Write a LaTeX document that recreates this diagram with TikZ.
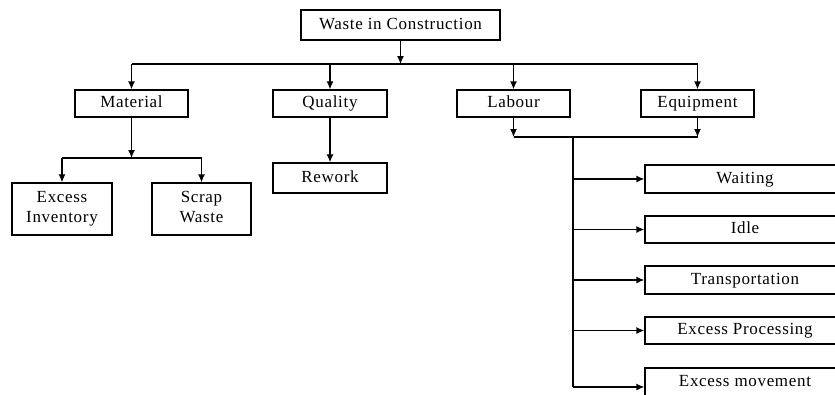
\documentclass[tikz,border=0pt]{standalone}
\usepackage{fontspec}
\setmainfont[LetterSpace=4]{Liberation Serif}
\usetikzlibrary{arrows.meta}
\begin{document}
\begin{tikzpicture}[x=1pt, y=-1pt, line width=1.3pt,
  box2/.style={draw, rectangle, inner sep=0pt, align=center, text depth=4pt, font=\fontsize{17}{20}\selectfont},
  box/.style={box2, text height=11pt, text depth=3pt},
  arr/.style={-{Latex[length=8pt,width=7pt]}}]
  \useasboundingbox (0,0) rectangle (835,394);
  \clip (0,0) rectangle (835,394);
  \node[box, minimum width=199pt, minimum height=30pt] (waste) at (400.5, 25) {Waste in Construction};
  \node[box, minimum width=113pt, minimum height=27pt] (material) at (131.5, 103.5) {Material};
  \node[box, minimum width=114pt, minimum height=27pt] (quality) at (330, 103.5) {Quality};
  \node[box, minimum width=113pt, minimum height=27pt] (labour) at (513.5, 103.5) {Labour};
  \node[box, minimum width=113pt, minimum height=27pt] (equip) at (697.5, 103.5) {Equipment};
  \node[box2, minimum width=100pt, minimum height=52pt] (inv) at (62, 209) {Excess\\Inventory};
  \node[box2, minimum width=99pt, minimum height=52pt] (scrap) at (201.5, 209) {Scrap\\Waste};
  \node[box, minimum width=114pt, minimum height=30pt] (rework) at (330, 178) {Rework};
  \node[box, minimum width=200pt, minimum height=28pt] (waiting) at (745, 179) {Waiting};
  \node[box, minimum width=200pt, minimum height=27pt] (idle) at (745, 229.5) {Idle};
  \node[box, minimum width=200pt, minimum height=28pt] (transp) at (745, 280) {Transportation};
  \node[box, minimum width=200pt, minimum height=27pt] (exproc) at (745, 330.5) {Excess Processing};
  \node[box, minimum width=200pt, minimum height=28pt] (exmove) at (745, 382) {Excess movement};
  \coordinate (hub) at (400.5, 64);
  \coordinate (mhub) at (131.5, 158);
  \coordinate (lhub) at (573, 137);
  \coordinate (lend) at (573, 387);
  \draw[arr] (waste) -- (hub);
  \draw (hub -| material) -- (hub -| equip);
  \draw[arr] (hub -| material) -- (material);
  \draw[arr] (hub -| quality) -- (quality);
  \draw[arr] (hub -| labour) -- (labour);
  \draw[arr] (hub -| equip) -- (equip);
  \draw[arr] (material) -- (mhub);
  \draw (mhub -| inv) -- (mhub -| scrap);
  \draw[arr] (mhub -| inv) -- (inv);
  \draw[arr] (mhub -| scrap) -- (scrap);
  \draw[arr] (quality) -- (rework);
  \draw[arr] (labour) -- (lhub -| labour);
  \draw[arr] (equip) -- (lhub -| equip);
  \draw (lhub -| labour) -- (lhub -| equip);
  \draw (lhub) -- (lend);
  \draw[arr] (lhub |- waiting) -- (waiting);
  \draw[arr] (lhub |- idle) -- (idle);
  \draw[arr] (lhub |- transp) -- (transp);
  \draw[arr] (lhub |- exproc) -- (exproc);
  \draw[arr] (lend) -- (lend -| exmove.west);
\end{tikzpicture}
\end{document}
